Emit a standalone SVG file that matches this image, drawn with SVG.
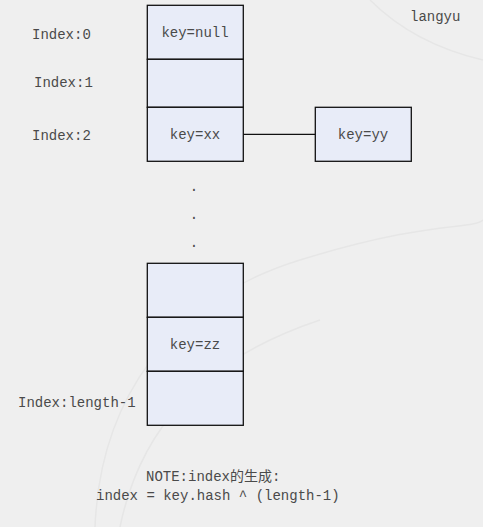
<svg xmlns="http://www.w3.org/2000/svg" width="483" height="527" viewBox="0 0 483 527">
<style>
.cell{fill:#e8ecf8;stroke:#111;stroke-width:1.3}
.t{font-family:"Liberation Mono","Noto Sans CJK SC",monospace;font-size:14px;fill:#4a4a4a}
.c{text-anchor:middle}
.ln{stroke:#111;stroke-width:1.3;fill:none}
.bg{fill:none;stroke:#e6e6e6;stroke-width:1.5}
</style>
<rect width="483" height="527" fill="#efefef"/>
<path class="bg" d="M95 527 C100 400 170 300 300 260 S470 230 483 220"/>
<path class="bg" d="M120 527 C140 430 200 360 320 320"/>
<path class="bg" d="M370 0 C400 30 440 50 483 60"/>
<g id="index-labels">
<text class="t" x="32" y="39">Index:0</text>
<text class="t" x="34" y="87">Index:1</text>
<text class="t" x="32" y="140">Index:2</text>
<text class="t" x="18" y="407">Index:length-1</text>
</g>
<g id="watermark"><text class="t" x="410" y="21">langyu</text></g>
<g id="cell0"><rect class="cell" x="147.3" y="5.3" width="96" height="54"/><text class="t c" x="195" y="37">key=null</text></g>
<g id="cell1"><rect class="cell" x="147.3" y="59.3" width="96" height="48"/></g>
<g id="cell2"><rect class="cell" x="147.3" y="107.3" width="96" height="54"/><text class="t c" x="195" y="139">key=xx</text></g>
<g id="nodeYY"><rect class="cell" x="315.3" y="107.3" width="96" height="54"/><text class="t c" x="363" y="139">key=yy</text></g>
<g id="ellipsis"><text class="t c" x="194" y="191">.</text><text class="t c" x="194" y="219">.</text><text class="t c" x="194" y="247">.</text></g>
<g id="cellA"><rect class="cell" x="147.3" y="263.3" width="96" height="54"/></g>
<g id="cellZZ"><rect class="cell" x="147.3" y="317.3" width="96" height="54"/><text class="t c" x="195" y="349">key=zz</text></g>
<g id="cellLast"><rect class="cell" x="147.3" y="371.3" width="96" height="54"/></g>
<g id="connectors"><line class="ln" x1="243.3" y1="134.3" x2="315.3" y2="134.3"/></g>
<g id="note">
<text class="t" x="146" y="481">NOTE:index的生成:</text>
<text class="t" x="96" y="500">index = key.hash ^ (length-1)</text>
</g>
</svg>
